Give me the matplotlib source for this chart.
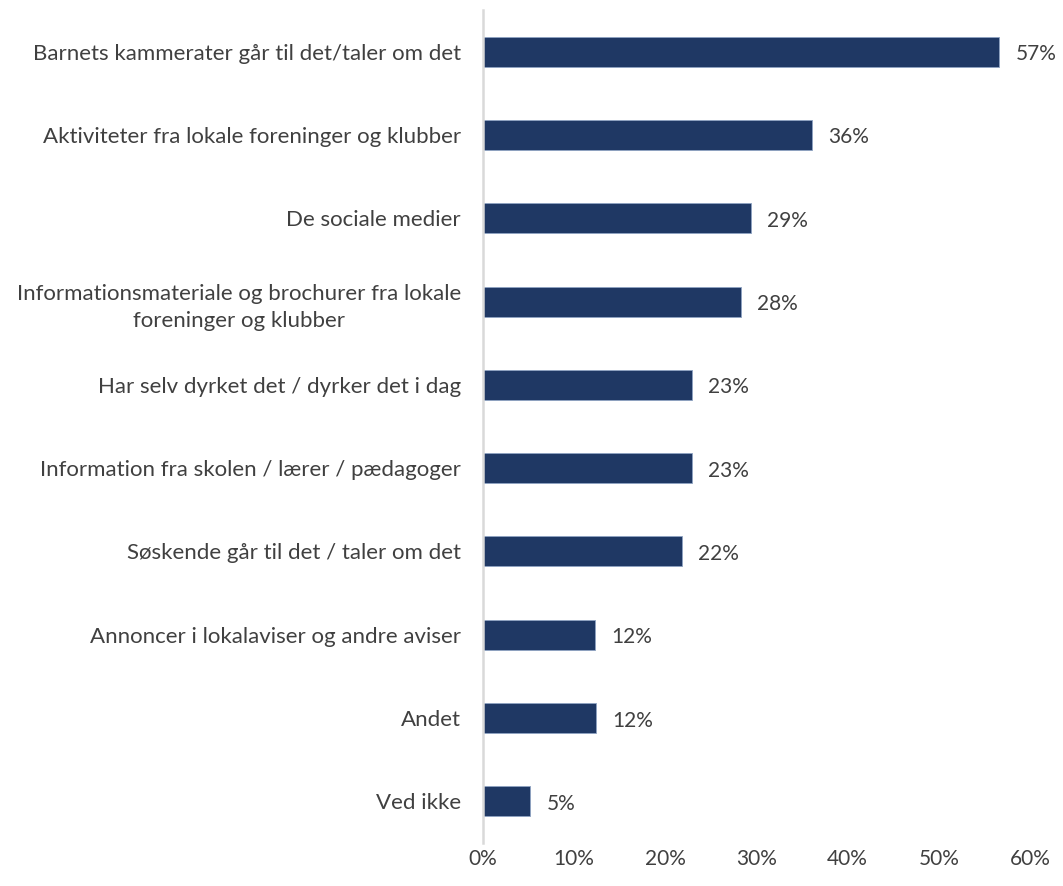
import matplotlib.pyplot as plt
import matplotlib.ticker as mticker

categories = ['Barnets kammerater går til det/taler om det',
              'Aktiviteter fra lokale foreninger og klubber',
              'De sociale medier',
              'Informationsmateriale og brochurer fra lokale\nforeninger og klubber',
              'Har selv dyrket det / dyrker det i dag',
              'Information fra skolen / lærer / pædagoger',
              'Søskende går til det / taler om det',
              'Annoncer i lokalaviser og andre aviser',
              'Andet',
              'Ved ikke']
values = [57, 36, 29, 28, 23, 23, 22, 12, 12, 5]
# actual bar lengths slightly differ from rounded labels
lengths = [56.6, 36.1, 29.4, 28.3, 22.9, 22.9, 21.8, 12.3, 12.4, 5.2]
xticks = [0, 10, 20, 30, 40, 50, 60]

plt.rcParams['font.family'] = ['Lato', 'DejaVu Sans']
text_col = '#404040'

fig = plt.figure(figsize=(10.63, 8.86), dpi=100)
ax = fig.add_axes([483/1063, 1-843/886, (1030-483)/1063, 833/886])

y = list(range(len(categories)))
ax.barh(y, lengths, height=0.36, color='#1F3864', edgecolor='#8EA3C2', linewidth=0.6, zorder=2)
for yi, l, v in zip(y, lengths, values):
    ax.text(l + 1.8, yi + 0.03, f'{v}%', va='center', ha='left', fontsize=15, color=text_col)

ax.set_ylim(len(categories) - 0.5, -0.5)
ax.set_xlim(0, 60)
ax.set_yticks(y)
ax.set_yticklabels(categories, fontsize=16, color=text_col, ha='right',
                   multialignment='center', linespacing=1.45)
ax.set_xticks(xticks)
ax.xaxis.set_major_formatter(mticker.FuncFormatter(lambda v, p: f'{int(v)}%'))
ax.tick_params(axis='x', length=0, pad=4, labelsize=15, labelcolor=text_col)
ax.tick_params(axis='y', length=0, pad=16)
for s in ['top', 'right', 'bottom']:
    ax.spines[s].set_visible(False)
ax.spines['left'].set_color('#D9D9D9')
ax.spines['left'].set_linewidth(1.8)

fig.savefig('out.png', dpi=100)
